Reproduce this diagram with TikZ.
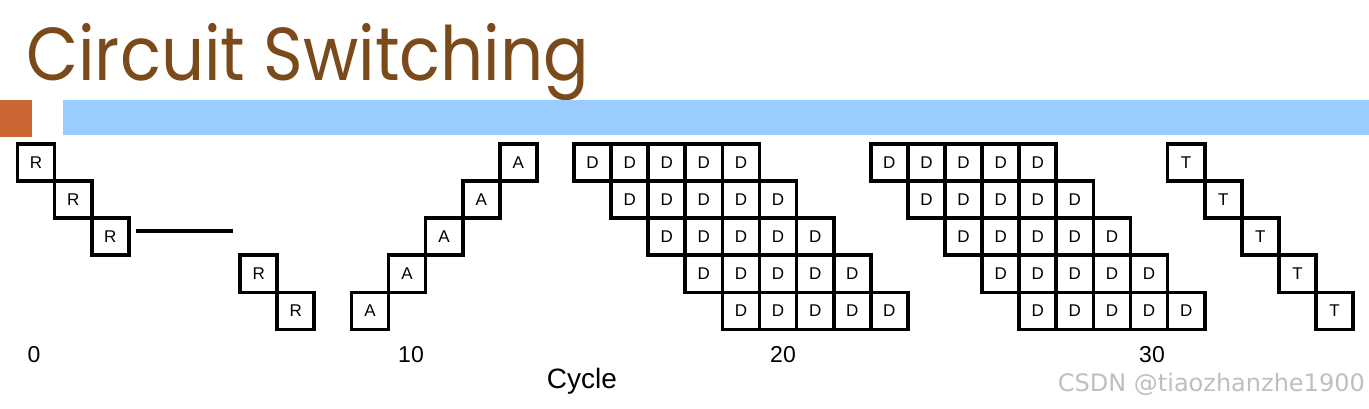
\documentclass[tikz,border=0pt]{standalone}
\usepackage{fontspec}
\setmainfont{Liberation Sans}
\newfontfamily\titlefont{Poppins}
\newfontfamily\markfont{DejaVu Sans}
\definecolor{titlebrown}{HTML}{7B4A1A}
\definecolor{barblue}{HTML}{99CCFF}
\definecolor{barorange}{HTML}{CC6633}

\begin{document}
\begin{tikzpicture}[x=1pt,y=-1pt,
  cell/.style={draw,line width=3.7pt,minimum size=37.1pt,inner sep=0pt,font=\fontsize{17}{17}\selectfont},
  ticklabel/.style={font=\fontsize{23}{23}\selectfont}]
\useasboundingbox (0,0) rectangle (1369,408);
% header
\node[anchor=base west,inner sep=0pt,text=titlebrown,font=\titlefont\fontsize{75}{75}\selectfont] (title) at (26,80) {\scalebox{0.9}[1]{Circuit Switching}};
\fill[barorange] (0,100) rectangle (32,137);
\fill[barblue] (63,100) rectangle (1369,135);
% request
\foreach \c/\r in {0/0,1/1,2/2,6/3,7/4}
  \node[cell] (r\c) at ({36.05+37.1*\c},{162.55+37.1*\r}) {R};
\coordinate (hold) at (233,230.75);
\draw[line width=3.7pt] ([xshift=5pt,yshift=6pt]r2.east) -- (hold);
% ack
\foreach \i in {0,...,4}
  \node[cell] (a\i) at ({36.05+37.1*(9+\i)},{162.55+37.1*(4-\i)}) {A};
% data
\foreach \r in {0,...,4}
  \foreach \k in {0,...,4} {
    \node[cell] (d\r\k) at ({36.05+37.1*(15+\r+\k)},{162.55+37.1*\r}) {D};
    \node[cell] (e\r\k) at ({36.05+37.1*(23+\r+\k)},{162.55+37.1*\r}) {D};
  }
% tail
\foreach \i in {0,...,4}
  \node[cell] (t\i) at ({36.05+37.1*(31+\i)},{162.55+37.1*\i}) {T};
% axis
\node[ticklabel] (c0) at (34,355) {0};
\node[ticklabel] (c10) at (411,355) {10};
\node[ticklabel] (c20) at (783,355) {20};
\node[ticklabel] (c30) at (1152,355) {30};
\node[font=\fontsize{28}{28}\selectfont] (cycle) at (582,381) {Cycle};
\node[anchor=east,inner sep=0pt,text=black!25,font=\markfont\fontsize{24}{24}\selectfont] (mark) at (1365,384) {CSDN @tiaozhanzhe1900};
\end{tikzpicture}
\end{document}
